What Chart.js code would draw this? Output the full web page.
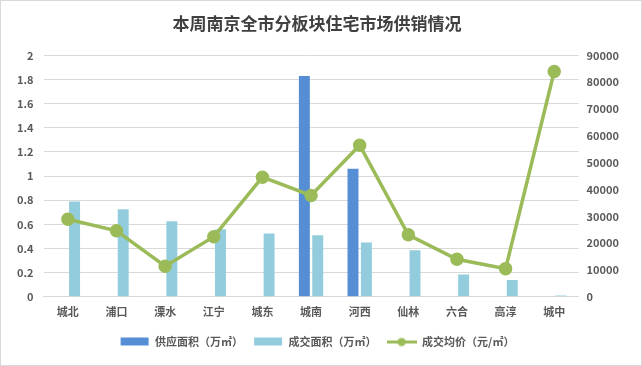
<!DOCTYPE html>
<html>
<head>
<meta charset="utf-8">
<script src="https://cdn.jsdelivr.net/npm/chart.js@4"></script>
<style>
    html, body { margin: 0; padding: 0; background: #fff; }
    #wrap { width: 642px; height: 366px; box-sizing: border-box; border: 1px solid #d9d9d9; position: relative; }
    canvas { display: block; }
</style>
</head>
<body>
<div id="wrap"><canvas id="c" width="640" height="364"></canvas></div>
<script>
const districts = ['城北', '浦口', '溧水', '江宁', '城东', '城南', '河西', '仙林', '六合', '高淳', '城中'];
const supplyArea = [null, null, null, null, null, 1.83, 1.06, null, null, null, null];
const dealArea = [0.79, 0.725, 0.625, 0.56, 0.525, 0.51, 0.45, 0.385, 0.185, 0.14, 0.01];
const avgPrice = [28900, 24600, 11400, 22400, 44600, 37800, 56500, 23100, 14000, 10500, 84000];
const leftTicks = [0, 0.2, 0.4, 0.6, 0.8, 1, 1.2, 1.4, 1.6, 1.8, 2];
const rightTicks = [0, 10000, 20000, 30000, 40000, 50000, 60000, 70000, 80000, 90000];

const tickFont = { family: "'Noto Sans CJK SC', sans-serif", size: 11, weight: 'bold' };
const textColor = '#595959';
const colors = ['#558ed5', '#93cddd', '#9bbb59'];

// legend markers: plain boxes for bars, line with a dot for the price series
function marker(i) {
    const cv = document.createElement('canvas');
    cv.width = 30; cv.height = 10;
    const g = cv.getContext('2d');
    g.fillStyle = colors[i];
    if (i < 2) {
        g.fillRect(1, 1, 28, 8);
    } else {
        g.fillRect(0, 4, 30, 3);
        g.beginPath(); g.arc(15, 5.5, 4, 0, Math.PI * 2); g.fill();
    }
    return cv;
}

new Chart(document.getElementById('c'), {
    data: {
        labels: districts,
        datasets: [
            {
                type: 'bar', label: '供应面积（万㎡）', data: supplyArea,
                backgroundColor: colors[0], yAxisID: 'y', order: 2,
                categoryPercentage: 0.55, barPercentage: 0.82,
            },
            {
                type: 'bar', label: '成交面积（万㎡）', data: dealArea,
                backgroundColor: colors[1], yAxisID: 'y', order: 2,
                categoryPercentage: 0.55, barPercentage: 0.82,
            },
            {
                type: 'line', label: '成交均价（元/㎡）', data: avgPrice,
                borderColor: colors[2], backgroundColor: colors[2],
                borderWidth: 3.5, pointRadius: 5, pointHoverRadius: 5,
                yAxisID: 'y1', order: 1, tension: 0,
            },
        ],
    },
    options: {
        responsive: false,
        animation: false,
        devicePixelRatio: 1,
        layout: { padding: { left: 6, right: 14, top: 4, bottom: 8 } },
        scales: {
            x: {
                grid: { display: false, drawTicks: false },
                border: { color: '#d9d9d9' },
                ticks: { color: textColor, font: tickFont, padding: 8, maxRotation: 0, autoSkip: false },
            },
            y: {
                position: 'left', min: 0, max: 2,
                afterBuildTicks: s => { s.ticks = leftTicks.map(v => ({ value: v })); },
                grid: { color: '#d9d9d9', drawTicks: false },
                border: { display: false },
                ticks: { color: textColor, font: tickFont, padding: 10, callback: v => String(+v.toFixed(1)) },
            },
            y1: {
                position: 'right', min: 0, max: 90000,
                afterBuildTicks: s => { s.ticks = rightTicks.map(v => ({ value: v })); },
                grid: { display: false, drawTicks: false },
                border: { display: false },
                ticks: { color: textColor, font: tickFont, padding: 8, callback: v => String(v) },
            },
        },
        plugins: {
            title: {
                display: true, text: '本周南京全市分板块住宅市场供销情况',
                color: '#404040',
                font: { family: "'Noto Sans CJK SC', sans-serif", size: 17, weight: 'bold' },
                padding: { top: 8, bottom: 22 },
            },
            legend: {
                position: 'bottom',
                labels: {
                    color: textColor, font: tickFont,
                    usePointStyle: true, pointStyleWidth: 30, boxHeight: 10, padding: 10,
                    generateLabels: chart => Chart.defaults.plugins.legend.labels.generateLabels(chart)
                        .map(l => Object.assign(l, { pointStyle: marker(l.datasetIndex) })),
                    sort: (a, b) => a.datasetIndex - b.datasetIndex,
                },
            },
            tooltip: { enabled: false },
        },
    },
});
</script>
</body>
</html>
